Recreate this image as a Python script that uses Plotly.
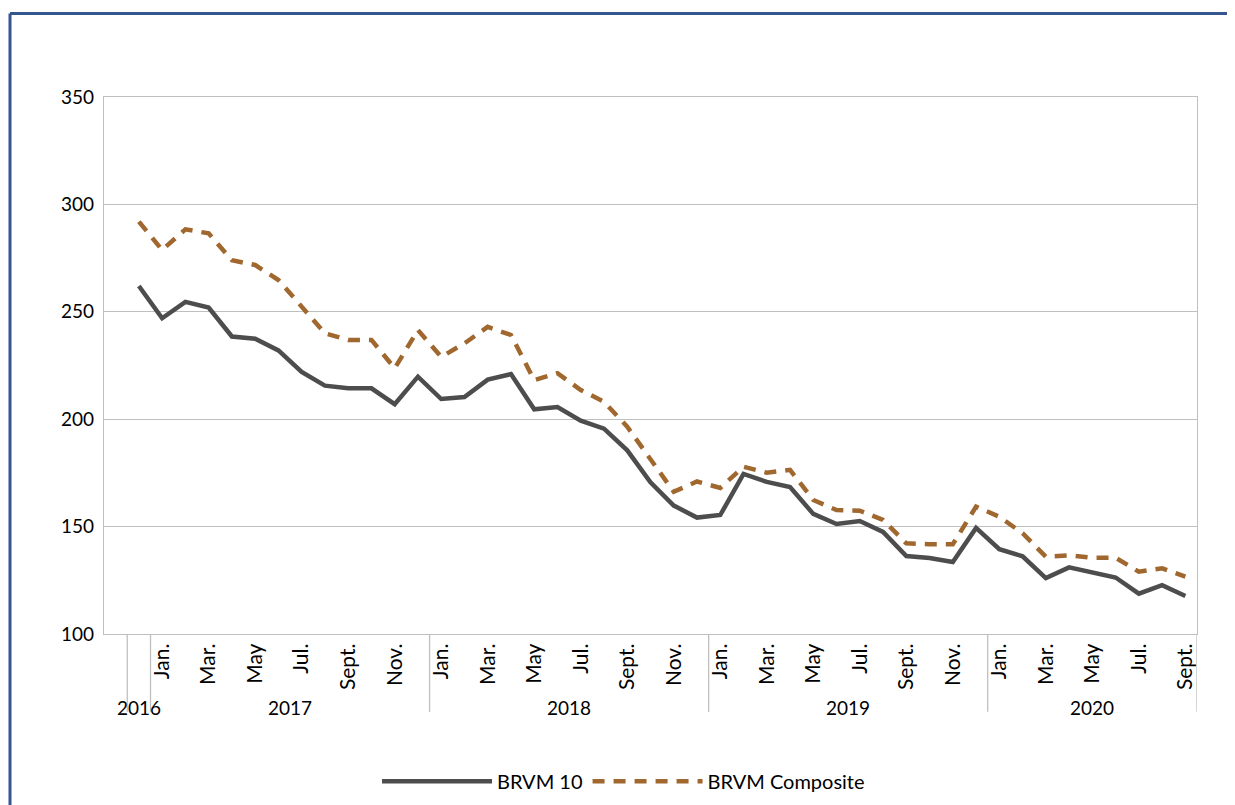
import plotly.graph_objects as go

# ---- data ----
years = ["2016"] + ["2017"] * 12 + ["2018"] * 12 + ["2019"] * 12 + ["2020"] * 9
months = (["Dec"]
          + ["Jan", "Feb", "Mar", "Apr", "May", "Jun", "Jul", "Aug", "Sep", "Oct", "Nov", "Dec"] * 3
          + ["Jan", "Feb", "Mar", "Apr", "May", "Jun", "Jul", "Aug", "Sep"])
month_tick_text = {"Jan": "Jan.", "Mar": "Mar.", "May": "May", "Jul": "Jul.", "Sep": "Sept.", "Nov": "Nov."}
year_labels = ["2016", "2017", "2018", "2019", "2020"]

brvm10 = [262, 247, 254.6, 252, 238.5, 237.5, 232, 222, 215.6, 214.4, 214.4, 207, 219.8,
          209.4, 210.3, 218.4, 221, 204.6, 205.7, 199.3, 195.6, 185.5, 170.6, 159.8, 154.2,
          155.4, 174.5, 170.8, 168.4, 155.9, 151.2, 152.6, 147.5, 136.3, 135.4, 133.5, 149.4,
          139.5, 136.2, 126, 131, 128.5, 126.3, 118.8, 122.7, 117.7]
composite = [292, 278.8, 288.4, 286.5, 274, 271.8, 264.8, 252.4, 240, 236.9, 236.9, 223.7, 241.5,
             229, 235.3, 243, 239.2, 218.2, 221.4, 213.6, 208.1, 196.5, 181, 166.2, 171,
             168, 177.9, 175.1, 176.4, 162.4, 157.7, 157.4, 153.1, 142.2, 141.8, 141.8, 159.3,
             154.6, 146.9, 136, 136.6, 135.5, 135.5, 129, 130.6, 126.7]

# category slot 0 is an empty leading category (as in the source chart)
x_pos = [i + 1 for i in range(len(months))]
n_slots = len(months) + 1

tickvals = [x for x, m in zip(x_pos, months) if m in month_tick_text]
ticktext = [month_tick_text[m] for m in months if m in month_tick_text]

FONT = "Lato, 'Open Sans', sans-serif"
GRID = "#BFBFBF"

fig = go.Figure()
fig.add_trace(go.Scatter(x=x_pos, y=brvm10, mode="lines", name="BRVM 10",
                         line=dict(color="#4D4D4D", width=4.5)))
fig.add_trace(go.Scatter(x=x_pos, y=composite, mode="lines", name="BRVM Composite",
                         line=dict(color="#A0682F", width=4.5, dash="12px,9px")))

# group separators and year labels on the category axis
shapes = []
annotations = []
sep_bottom = -0.145
group_bounds = []
start = 0
for i in range(1, len(years) + 1):
    if i == len(years) or years[i] != years[start]:
        group_bounds.append((years[start], x_pos[start] - 0.5, x_pos[i - 1] + 0.5))
        start = i
edges = sorted({b for _, a, b in group_bounds} | {a for _, a, b in group_bounds})
for e in edges:
    shapes.append(dict(type="line", xref="x", yref="paper", x0=e, x1=e, y0=0, y1=sep_bottom,
                       line=dict(color=GRID, width=1.3)))
for name, a, b in group_bounds:
    annotations.append(dict(x=(a + b) / 2, y=-0.136, xref="x", yref="paper", text=name,
                            showarrow=False, xanchor="center", yanchor="middle",
                            font=dict(family=FONT, size=19, color="#000000")))

# page frame (blue border at the top and left of the image)
shapes.append(dict(type="line", xref="paper", yref="paper", x0=-0.0860, x1=1.05, y0=1.1555, y1=1.1555,
                   line=dict(color="#35558F", width=3)))
shapes.append(dict(type="line", xref="paper", yref="paper", x0=-0.0860, x1=-0.0860, y0=1.1555, y1=-0.32,
                   line=dict(color="#35558F", width=3)))

# the page adds an 8px body margin, so the figure is 8px smaller than the window
fig.update_layout(
    width=1227, height=797,
    margin=dict(l=96, r=38, t=89, b=171, autoexpand=False),
    paper_bgcolor="white", plot_bgcolor="white",
    font=dict(family=FONT, size=18, color="#000000"),
    showlegend=True,
    legend=dict(orientation="h", x=0.2498, xanchor="left", y=-0.274, yanchor="middle",
                font=dict(family=FONT, size=20, color="#000000"), itemwidth=110,
                bgcolor="rgba(0,0,0,0)"),
    shapes=shapes, annotations=annotations,
    xaxis=dict(range=[-0.5, n_slots - 0.5], tickmode="array", tickvals=tickvals, ticktext=ticktext,
               tickangle=-90, showgrid=False, zeroline=False, showline=True, mirror=True,
               linecolor=GRID, linewidth=1.3, ticks="", tickfont=dict(family=FONT, size=21, color="#000000")),
    yaxis=dict(range=[100, 350], dtick=50, tick0=100, showgrid=True, gridcolor=GRID, gridwidth=1.3,
               zeroline=False, showline=True, mirror=True, linecolor=GRID, linewidth=1.3, ticks="",
               tickfont=dict(family=FONT, size=19, color="#000000"), ticklabelstandoff=5),
)

fig.write_html("out.html")
